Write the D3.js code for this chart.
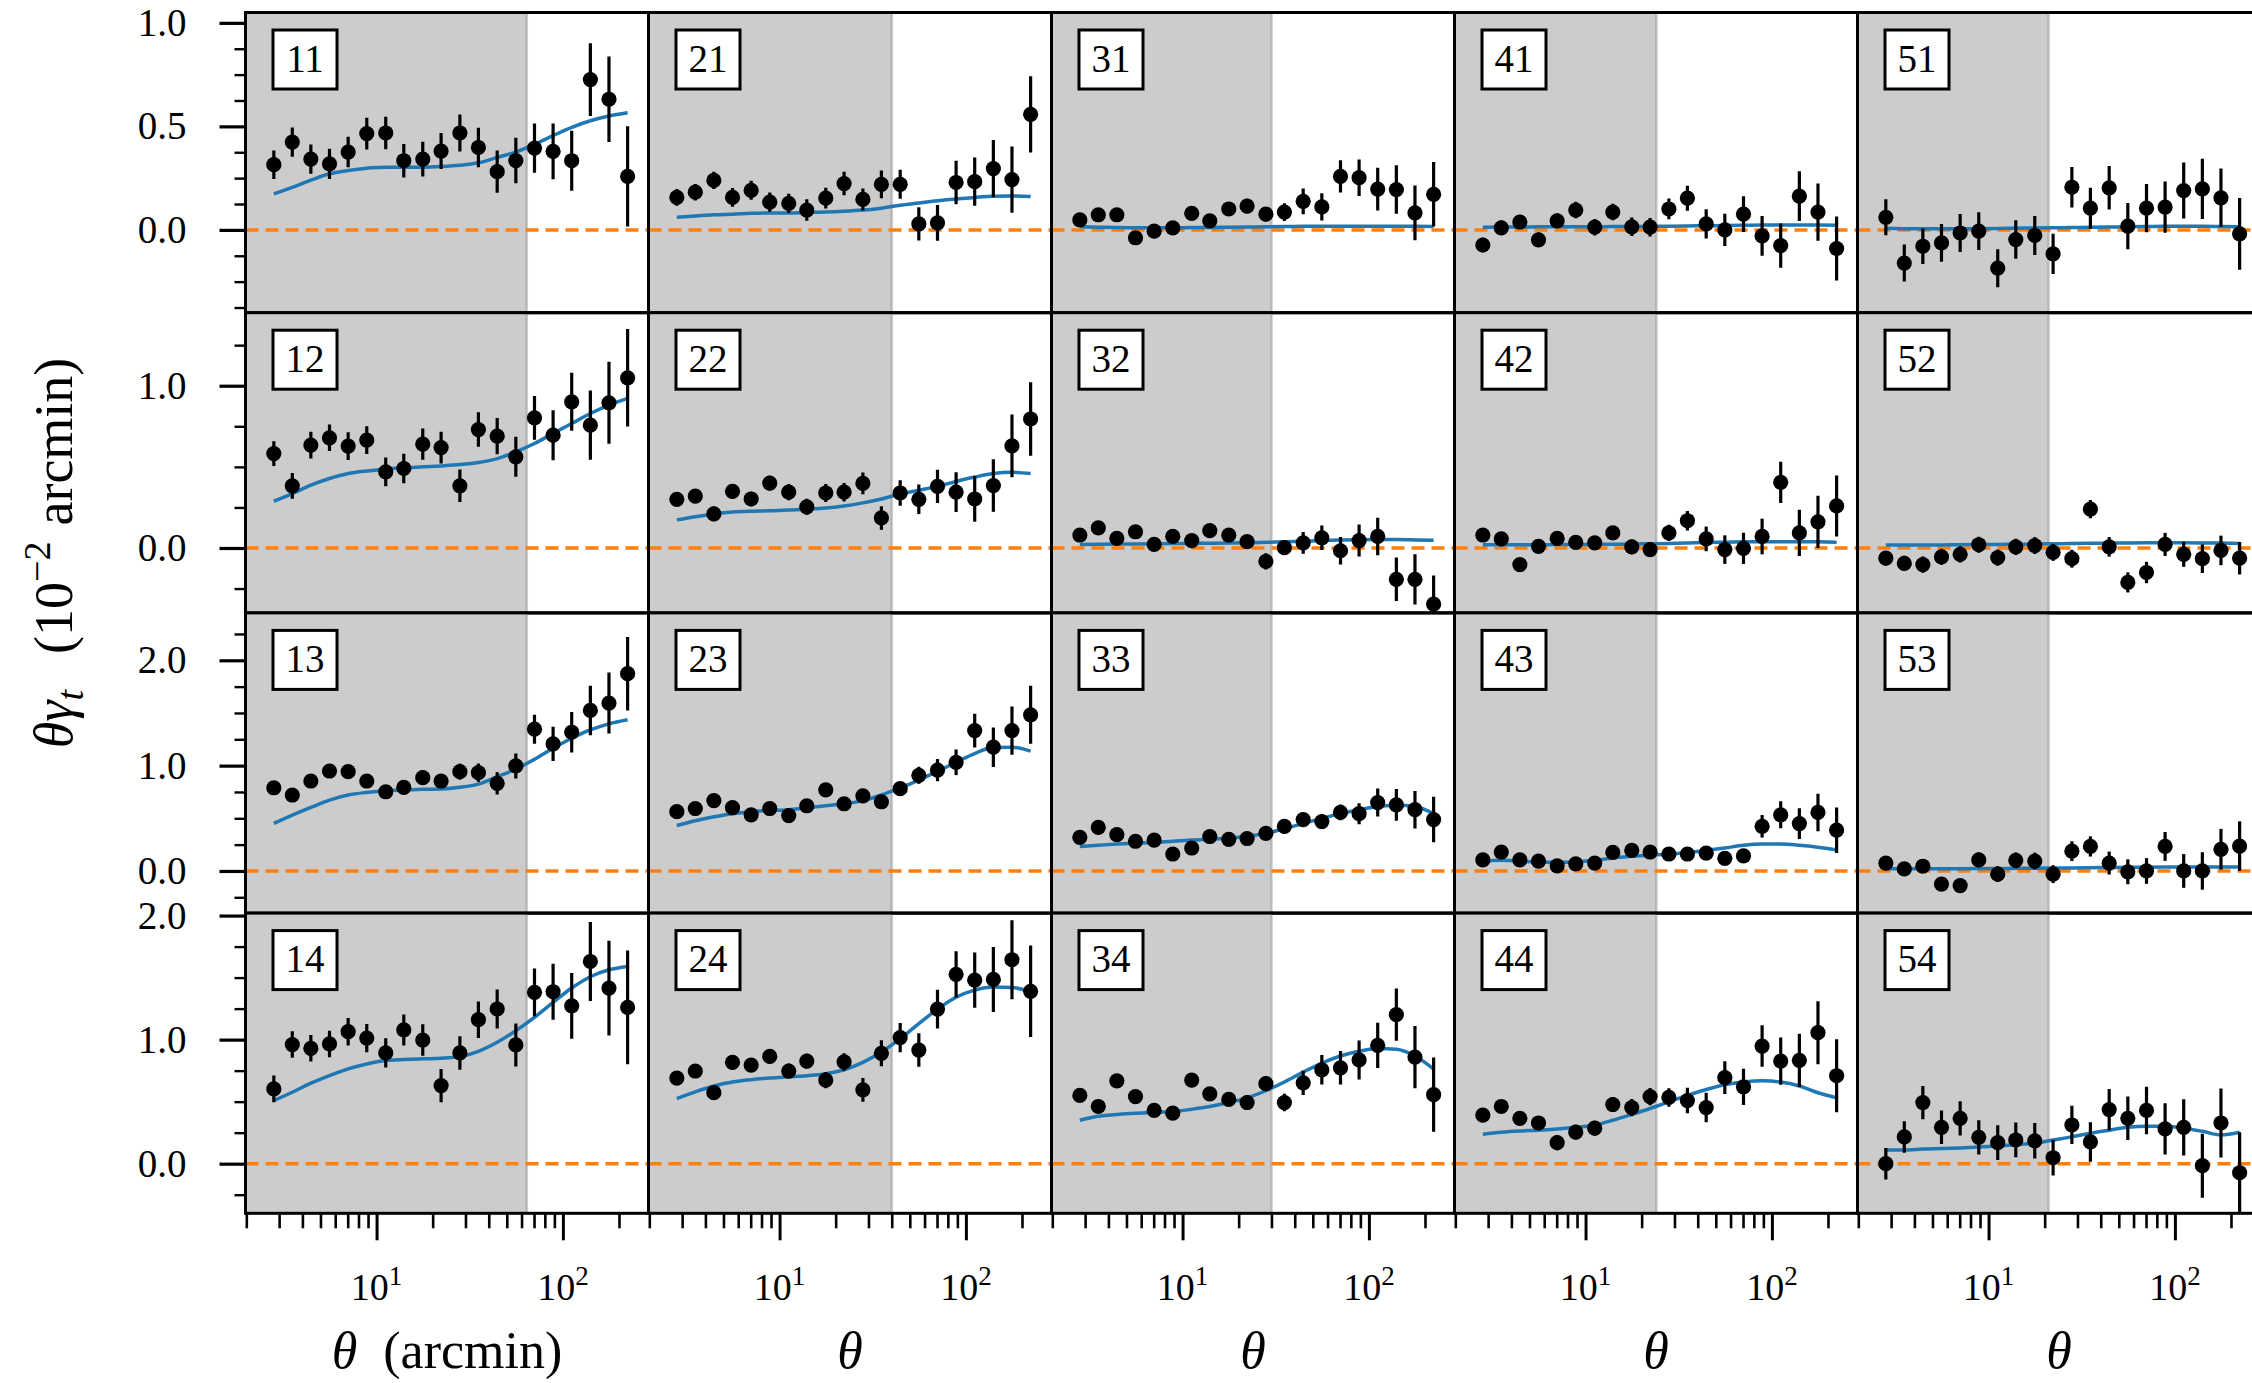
<!DOCTYPE html>
<html>
<head>
<meta charset="utf-8">
<script src="https://cdn.jsdelivr.net/npm/d3@7"></script>
<style>
  body { margin: 0; background: #fff; }
  svg { display: block; }
  text { font-family: "Liberation Serif", "Times New Roman", serif; fill: #000; }
</style>
</head>
<body>
<div id="chart"></div>
<script>
// angular bins (arcmin)
var theta = [2.81, 3.53, 4.44, 5.59, 7.04, 8.86, 11.2, 14.0, 17.7, 22.2, 28.0, 35.2, 44.4, 55.9, 70.4, 88.6, 111.5, 140.4, 176.7, 222.5];
var lensBins = ["1", "2", "3", "4", "5"];
var sourceBins = ["1", "2", "3", "4"];
var scaleCuts = [64, 40, 30, 24, 21];

var yMin = -0.40;
var yMax = [1.05, 1.45, 2.45, 2.02];
var yMajor = [[0, 0.5, 1.0], [0, 1.0], [0, 1.0, 2.0], [0, 1.0, 2.0]];
var yMinor = [
  [-0.375, -0.25, -0.125, 0.125, 0.25, 0.375, 0.625, 0.75, 0.875],
  [-0.25, 0.25, 0.5, 0.75, 1.25],
  [-0.25, 0.25, 0.5, 0.75, 1.25, 1.5, 1.75, 2.25],
  [-0.25, 0.25, 0.5, 0.75, 1.25, 1.5, 1.75]
];
var xMajor = [10, 100];
var xExp = ["1", "2"];
var xMinor = [2, 3, 4, 5, 6, 7, 8, 9, 20, 30, 40, 50, 60, 70, 80, 90, 200];

// theta * gamma_t (1e-2 arcmin), errors and model, per lens/source pair
var gt11 = [0.315, 0.424, 0.342, 0.319, 0.376, 0.465, 0.468, 0.334, 0.342, 0.381, 0.468, 0.398, 0.281, 0.335, 0.395, 0.379, 0.334, 0.726, 0.631, 0.258];
var err11 = [0.069, 0.071, 0.071, 0.073, 0.074, 0.077, 0.079, 0.081, 0.084, 0.087, 0.089, 0.095, 0.102, 0.110, 0.119, 0.135, 0.145, 0.176, 0.206, 0.242];
var mod11 = [0.174, 0.205, 0.240, 0.271, 0.287, 0.298, 0.302, 0.303, 0.303, 0.306, 0.312, 0.324, 0.350, 0.376, 0.413, 0.455, 0.495, 0.527, 0.550, 0.566];

var gt12 = [0.582, 0.383, 0.634, 0.679, 0.628, 0.665, 0.469, 0.490, 0.640, 0.619, 0.383, 0.730, 0.689, 0.562, 0.802, 0.695, 0.901, 0.757, 0.895, 1.049];
var err12 = [0.076, 0.079, 0.082, 0.082, 0.085, 0.086, 0.088, 0.091, 0.096, 0.098, 0.100, 0.106, 0.112, 0.123, 0.135, 0.154, 0.179, 0.213, 0.252, 0.300];
var mod12 = [0.288, 0.335, 0.387, 0.428, 0.459, 0.475, 0.486, 0.494, 0.500, 0.506, 0.514, 0.527, 0.551, 0.593, 0.644, 0.706, 0.767, 0.829, 0.881, 0.922];

var gt13 = [0.790, 0.721, 0.854, 0.949, 0.943, 0.854, 0.752, 0.794, 0.886, 0.854, 0.943, 0.933, 0.832, 0.997, 1.346, 1.206, 1.317, 1.524, 1.594, 1.873];
var err13 = [0.040, 0.040, 0.042, 0.044, 0.045, 0.047, 0.050, 0.052, 0.068, 0.060, 0.076, 0.087, 0.106, 0.119, 0.138, 0.162, 0.192, 0.235, 0.289, 0.349];
var mod13 = [0.451, 0.530, 0.603, 0.673, 0.721, 0.746, 0.762, 0.768, 0.775, 0.778, 0.794, 0.825, 0.895, 0.968, 1.060, 1.165, 1.260, 1.340, 1.397, 1.435];

var gt14 = [0.603, 0.960, 0.930, 0.965, 1.064, 1.013, 0.893, 1.078, 0.997, 0.630, 0.893, 1.161, 1.247, 0.957, 1.381, 1.386, 1.273, 1.630, 1.416, 1.260];
var err14 = [0.107, 0.107, 0.107, 0.107, 0.111, 0.114, 0.118, 0.125, 0.126, 0.134, 0.135, 0.147, 0.157, 0.174, 0.192, 0.225, 0.265, 0.318, 0.382, 0.458];
var mod14 = [0.509, 0.576, 0.649, 0.710, 0.764, 0.804, 0.831, 0.839, 0.845, 0.850, 0.863, 0.906, 0.979, 1.072, 1.180, 1.300, 1.416, 1.507, 1.563, 1.590];

var gt21 = [0.157, 0.182, 0.239, 0.157, 0.191, 0.134, 0.128, 0.096, 0.153, 0.224, 0.147, 0.220, 0.220, 0.029, 0.034, 0.229, 0.233, 0.296, 0.243, 0.558];
var err21 = [0.040, 0.040, 0.042, 0.045, 0.046, 0.046, 0.047, 0.052, 0.050, 0.057, 0.053, 0.067, 0.070, 0.080, 0.086, 0.105, 0.117, 0.138, 0.160, 0.184];
var mod21 = [0.061, 0.067, 0.073, 0.076, 0.080, 0.082, 0.082, 0.084, 0.086, 0.090, 0.096, 0.105, 0.119, 0.130, 0.141, 0.149, 0.157, 0.163, 0.164, 0.161];

var gt22 = [0.300, 0.320, 0.210, 0.349, 0.302, 0.400, 0.344, 0.254, 0.339, 0.344, 0.398, 0.185, 0.339, 0.300, 0.380, 0.344, 0.302, 0.385, 0.629, 0.795];
var err22 = [0.040, 0.040, 0.045, 0.045, 0.045, 0.045, 0.050, 0.050, 0.055, 0.057, 0.067, 0.073, 0.079, 0.091, 0.102, 0.122, 0.140, 0.162, 0.193, 0.226];
var mod22 = [0.173, 0.193, 0.210, 0.222, 0.227, 0.229, 0.234, 0.239, 0.246, 0.259, 0.278, 0.302, 0.332, 0.356, 0.380, 0.410, 0.437, 0.459, 0.466, 0.459];

var gt23 = [0.563, 0.593, 0.668, 0.601, 0.533, 0.593, 0.526, 0.619, 0.770, 0.638, 0.713, 0.657, 0.781, 0.908, 0.957, 1.032, 1.333, 1.175, 1.333, 1.483];
var err23 = [0.040, 0.040, 0.040, 0.040, 0.040, 0.042, 0.045, 0.050, 0.050, 0.050, 0.050, 0.052, 0.060, 0.081, 0.105, 0.122, 0.160, 0.188, 0.229, 0.276];
var mod23 = [0.432, 0.477, 0.514, 0.544, 0.563, 0.574, 0.582, 0.601, 0.619, 0.638, 0.668, 0.721, 0.788, 0.863, 0.946, 1.032, 1.115, 1.171, 1.175, 1.137];

var gt24 = [0.690, 0.747, 0.572, 0.817, 0.795, 0.865, 0.747, 0.827, 0.674, 0.820, 0.595, 0.890, 1.017, 0.916, 1.246, 1.526, 1.479, 1.485, 1.644, 1.390];
var err24 = [0.050, 0.050, 0.052, 0.055, 0.055, 0.057, 0.060, 0.060, 0.065, 0.070, 0.095, 0.105, 0.118, 0.135, 0.157, 0.186, 0.223, 0.262, 0.318, 0.369];
var mod24 = [0.525, 0.579, 0.626, 0.658, 0.677, 0.690, 0.700, 0.709, 0.725, 0.757, 0.817, 0.900, 1.008, 1.129, 1.246, 1.342, 1.399, 1.424, 1.421, 1.383];

var gt31 = [0.048, 0.073, 0.073, -0.038, -0.006, 0.010, 0.080, 0.044, 0.101, 0.115, 0.076, 0.086, 0.138, 0.111, 0.258, 0.252, 0.197, 0.195, 0.082, 0.172];
var err31 = [0.025, 0.025, 0.025, 0.026, 0.027, 0.028, 0.029, 0.030, 0.030, 0.035, 0.035, 0.043, 0.062, 0.066, 0.078, 0.088, 0.103, 0.117, 0.132, 0.156];
var mod31 = [0.015, 0.013, 0.011, 0.010, 0.010, 0.010, 0.011, 0.012, 0.013, 0.014, 0.015, 0.016, 0.017, 0.018, 0.018, 0.018, 0.018, 0.018, 0.017, 0.016];

var gt32 = [0.080, 0.124, 0.059, 0.100, 0.022, 0.071, 0.046, 0.107, 0.080, 0.039, -0.083, 0.002, 0.032, 0.063, -0.017, 0.046, 0.071, -0.193, -0.193, -0.346];
var err32 = [0.030, 0.030, 0.030, 0.030, 0.030, 0.030, 0.030, 0.030, 0.030, 0.035, 0.050, 0.045, 0.067, 0.076, 0.085, 0.098, 0.116, 0.134, 0.155, 0.177];
var mod32 = [0.022, 0.023, 0.024, 0.025, 0.026, 0.027, 0.028, 0.029, 0.030, 0.032, 0.035, 0.038, 0.042, 0.046, 0.049, 0.051, 0.052, 0.052, 0.050, 0.047];

var gt33 = [0.319, 0.413, 0.345, 0.282, 0.293, 0.161, 0.218, 0.327, 0.300, 0.308, 0.357, 0.424, 0.488, 0.469, 0.556, 0.544, 0.649, 0.627, 0.582, 0.488];
var err33 = [0.035, 0.035, 0.035, 0.035, 0.035, 0.035, 0.035, 0.035, 0.035, 0.035, 0.038, 0.040, 0.045, 0.055, 0.075, 0.100, 0.133, 0.150, 0.178, 0.216];
var mod33 = [0.233, 0.244, 0.255, 0.263, 0.270, 0.282, 0.293, 0.300, 0.312, 0.330, 0.357, 0.402, 0.450, 0.499, 0.544, 0.582, 0.612, 0.627, 0.612, 0.544];

var gt34 = [0.550, 0.461, 0.668, 0.541, 0.429, 0.407, 0.674, 0.563, 0.518, 0.493, 0.645, 0.493, 0.652, 0.757, 0.773, 0.836, 0.954, 1.202, 0.859, 0.556];
var err34 = [0.040, 0.040, 0.040, 0.040, 0.040, 0.040, 0.045, 0.045, 0.050, 0.060, 0.060, 0.070, 0.098, 0.119, 0.135, 0.157, 0.183, 0.211, 0.251, 0.299];
var mod34 = [0.350, 0.382, 0.397, 0.407, 0.413, 0.420, 0.439, 0.461, 0.493, 0.531, 0.588, 0.658, 0.738, 0.811, 0.868, 0.906, 0.928, 0.922, 0.868, 0.763];

var gt41 = [-0.073, 0.010, 0.038, -0.048, 0.044, 0.096, 0.013, 0.086, 0.015, 0.013, 0.101, 0.153, 0.029, 0.000, 0.076, -0.029, -0.076, 0.163, 0.086, -0.090];
var err41 = [0.035, 0.035, 0.035, 0.035, 0.035, 0.040, 0.040, 0.040, 0.045, 0.045, 0.050, 0.060, 0.071, 0.078, 0.086, 0.096, 0.107, 0.120, 0.138, 0.155];
var mod41 = [0.013, 0.014, 0.014, 0.015, 0.015, 0.015, 0.015, 0.016, 0.016, 0.017, 0.018, 0.019, 0.020, 0.021, 0.022, 0.023, 0.023, 0.023, 0.023, 0.022];

var gt42 = [0.080, 0.056, -0.102, 0.010, 0.059, 0.034, 0.032, 0.093, 0.007, -0.010, 0.093, 0.168, 0.056, -0.010, -0.002, 0.071, 0.405, 0.093, 0.161, 0.259];
var err42 = [0.040, 0.040, 0.040, 0.040, 0.040, 0.040, 0.040, 0.040, 0.045, 0.045, 0.050, 0.060, 0.076, 0.088, 0.096, 0.110, 0.127, 0.143, 0.161, 0.188];
var mod42 = [0.020, 0.020, 0.020, 0.020, 0.021, 0.021, 0.022, 0.023, 0.024, 0.026, 0.028, 0.031, 0.034, 0.036, 0.038, 0.039, 0.039, 0.039, 0.038, 0.036];

var gt43 = [0.105, 0.180, 0.105, 0.094, 0.049, 0.068, 0.075, 0.176, 0.195, 0.180, 0.161, 0.161, 0.169, 0.120, 0.143, 0.424, 0.533, 0.450, 0.556, 0.387];
var err43 = [0.030, 0.030, 0.030, 0.030, 0.030, 0.030, 0.030, 0.030, 0.030, 0.030, 0.032, 0.034, 0.036, 0.045, 0.055, 0.107, 0.128, 0.146, 0.178, 0.216];
var mod43 = [0.094, 0.101, 0.094, 0.086, 0.083, 0.086, 0.101, 0.124, 0.139, 0.150, 0.158, 0.176, 0.195, 0.218, 0.244, 0.255, 0.255, 0.244, 0.225, 0.199];

var gt44 = [0.391, 0.461, 0.366, 0.328, 0.169, 0.254, 0.286, 0.477, 0.452, 0.541, 0.534, 0.509, 0.452, 0.693, 0.620, 0.948, 0.827, 0.833, 1.056, 0.709];
var err44 = [0.050, 0.050, 0.050, 0.050, 0.060, 0.060, 0.060, 0.060, 0.070, 0.070, 0.075, 0.103, 0.119, 0.132, 0.146, 0.167, 0.191, 0.215, 0.254, 0.294];
var mod44 = [0.238, 0.254, 0.264, 0.270, 0.280, 0.293, 0.312, 0.350, 0.397, 0.445, 0.499, 0.550, 0.598, 0.636, 0.658, 0.668, 0.658, 0.626, 0.572, 0.531];

var gt51 = [0.061, -0.160, -0.079, -0.063, -0.015, -0.006, -0.185, -0.047, -0.027, -0.116, 0.206, 0.105, 0.203, 0.018, 0.105, 0.110, 0.190, 0.198, 0.155, -0.019];
var err51 = [0.087, 0.089, 0.086, 0.091, 0.092, 0.091, 0.092, 0.093, 0.094, 0.097, 0.098, 0.099, 0.105, 0.112, 0.117, 0.124, 0.135, 0.145, 0.141, 0.173];
var mod51 = [0.008, 0.006, 0.005, 0.005, 0.005, 0.006, 0.007, 0.008, 0.009, 0.010, 0.011, 0.013, 0.014, 0.015, 0.016, 0.017, 0.017, 0.017, 0.016, 0.015];

var gt52 = [-0.063, -0.095, -0.102, -0.054, -0.039, 0.020, -0.059, 0.007, 0.015, -0.027, -0.066, 0.239, 0.007, -0.212, -0.151, 0.022, -0.039, -0.066, -0.015, -0.063];
var err52 = [0.045, 0.047, 0.050, 0.050, 0.050, 0.050, 0.050, 0.050, 0.052, 0.052, 0.055, 0.056, 0.060, 0.062, 0.066, 0.071, 0.077, 0.088, 0.091, 0.100];
var mod52 = [0.018, 0.018, 0.019, 0.019, 0.020, 0.021, 0.022, 0.023, 0.024, 0.026, 0.028, 0.029, 0.030, 0.031, 0.032, 0.032, 0.032, 0.031, 0.030, 0.028];

var gt53 = [0.075, 0.019, 0.045, -0.124, -0.139, 0.105, -0.030, 0.101, 0.094, -0.030, 0.188, 0.233, 0.075, -0.008, 0.000, 0.233, 0.000, 0.000, 0.206, 0.236];
var err53 = [0.060, 0.060, 0.065, 0.065, 0.065, 0.070, 0.075, 0.075, 0.080, 0.085, 0.094, 0.096, 0.109, 0.118, 0.122, 0.137, 0.160, 0.178, 0.193, 0.235];
var mod53 = [0.020, 0.020, 0.021, 0.021, 0.022, 0.023, 0.024, 0.025, 0.026, 0.027, 0.029, 0.031, 0.033, 0.035, 0.036, 0.037, 0.038, 0.038, 0.038, 0.037];

var gt54 = [0.000, 0.216, 0.493, 0.293, 0.366, 0.213, 0.169, 0.191, 0.184, 0.048, 0.312, 0.175, 0.436, 0.366, 0.429, 0.280, 0.293, -0.016, 0.328, -0.073];
var err54 = [0.127, 0.127, 0.134, 0.135, 0.138, 0.138, 0.140, 0.140, 0.143, 0.143, 0.154, 0.159, 0.167, 0.175, 0.191, 0.207, 0.227, 0.258, 0.278, 0.326];
var mod54 = [0.111, 0.111, 0.118, 0.122, 0.127, 0.134, 0.143, 0.153, 0.165, 0.191, 0.216, 0.245, 0.270, 0.293, 0.302, 0.302, 0.286, 0.261, 0.232, 0.254];

var panelData = {
  "11": [gt11, err11, mod11], "12": [gt12, err12, mod12], "13": [gt13, err13, mod13], "14": [gt14, err14, mod14],
  "21": [gt21, err21, mod21], "22": [gt22, err22, mod22], "23": [gt23, err23, mod23], "24": [gt24, err24, mod24],
  "31": [gt31, err31, mod31], "32": [gt32, err32, mod32], "33": [gt33, err33, mod33], "34": [gt34, err34, mod34],
  "41": [gt41, err41, mod41], "42": [gt42, err42, mod42], "43": [gt43, err43, mod43], "44": [gt44, err44, mod44],
  "51": [gt51, err51, mod51], "52": [gt52, err52, mod52], "53": [gt53, err53, mod53], "54": [gt54, err54, mod54]
};

var w = 2252;
var h = 1383;
var marginLeft = 245.5;
var marginTop = 12.5;
var pw = 403;
var ph = 300.2;

var svg = d3.select("#chart")
  .append("svg")
  .attr("width", w)
  .attr("height", h);

var x = d3.scaleLog().domain([1.98, 288]).range([0, pw]);

svg.append("defs")
  .append("clipPath")
  .attr("id", "panelClip")
  .append("rect")
  .attr("x", 0).attr("y", 0)
  .attr("width", pw).attr("height", ph);

lensBins.forEach(function(lens, c) {
  sourceBins.forEach(function(src, r) {
    var key = lens + src;
    var vals = panelData[key];
    var y = d3.scaleLinear().domain([yMin, yMax[r]]).range([ph, 0]);

    var g = svg.append("g")
      .attr("transform", "translate(" + (marginLeft + c * pw) + "," + (marginTop + r * ph) + ")");

    var inner = g.append("g").attr("clip-path", "url(#panelClip)");

    // excluded small scales
    inner.append("rect")
      .attr("x", 0).attr("y", 0)
      .attr("width", x(scaleCuts[c]))
      .attr("height", ph)
      .style("fill", "#cccccc");
    inner.append("line")
      .attr("x1", x(scaleCuts[c])).attr("x2", x(scaleCuts[c]))
      .attr("y1", 0).attr("y2", ph)
      .style("stroke", "#808080")
      .style("stroke-opacity", 0.4)
      .style("stroke-width", 2.5);

    inner.append("line")
      .attr("x1", 0).attr("x2", pw)
      .attr("y1", y(0)).attr("y2", y(0))
      .style("stroke", "#ff7f0e")
      .style("stroke-width", 3.5)
      .style("stroke-dasharray", "13,7");

    var line = d3.line()
      .x(function(d, i) { return x(theta[i]); })
      .y(function(d) { return y(d); })
      .curve(d3.curveMonotoneX);

    inner.append("path")
      .datum(vals[2])
      .attr("d", line)
      .style("fill", "none")
      .style("stroke", "#1f77b4")
      .style("stroke-width", 3.5);

    inner.selectAll(".err")
      .data(vals[0])
      .enter()
      .append("line")
      .attr("class", "err")
      .attr("x1", function(d, i) { return x(theta[i]); })
      .attr("x2", function(d, i) { return x(theta[i]); })
      .attr("y1", function(d, i) { return y(d - vals[1][i]); })
      .attr("y2", function(d, i) { return y(d + vals[1][i]); })
      .style("stroke", "#000")
      .style("stroke-width", 3.2);

    inner.selectAll("circle")
      .data(vals[0])
      .enter()
      .append("circle")
      .attr("cx", function(d, i) { return x(theta[i]); })
      .attr("cy", function(d) { return y(d); })
      .attr("r", 7.6)
      .style("fill", "#000");

    g.append("rect")
      .attr("x", 27.5).attr("y", 17.5)
      .attr("width", 64).attr("height", 59)
      .style("fill", "#fff")
      .style("stroke", "#000")
      .style("stroke-width", 3);
    g.append("text")
      .attr("x", 59.5).attr("y", 59)
      .attr("text-anchor", "middle")
      .style("font-size", "39px")
      .text(key);

    g.append("rect")
      .attr("width", pw).attr("height", ph)
      .style("fill", "none")
      .style("stroke", "#000")
      .style("stroke-width", 3);

    if (c === 0) {
      var yAx = g.append("g")
        .call(d3.axisLeft(y).tickValues(yMajor[r]).tickSize(26).tickPadding(33).tickFormat(d3.format(".1f")));
      yAx.select(".domain").remove();
      yAx.attr("font-family", null).attr("font-size", null);
      yAx.selectAll("line").style("stroke-width", 3.2);
      yAx.selectAll("text").style("font-size", "39px");

      var yMin2 = g.append("g")
        .call(d3.axisLeft(y).tickValues(yMinor[r]).tickSize(11).tickFormat(""));
      yMin2.select(".domain").remove();
      yMin2.selectAll("line").style("stroke-width", 2.4);
    }

    if (r === sourceBins.length - 1) {
      var xAx = g.append("g")
        .attr("transform", "translate(0," + ph + ")")
        .call(d3.axisBottom(x).tickValues(xMajor).tickSize(27).tickFormat(""));
      xAx.select(".domain").remove();
      xAx.selectAll("line").style("stroke-width", 3);

      var xMin2 = g.append("g")
        .attr("transform", "translate(0," + ph + ")")
        .call(d3.axisBottom(x).tickValues(xMinor).tickSize(15).tickFormat(""));
      xMin2.select(".domain").remove();
      xMin2.selectAll("line").style("stroke-width", 2.6);

      xMajor.forEach(function(v, k) {
        var t = g.append("text")
          .attr("x", x(v))
          .attr("y", ph + 87)
          .attr("text-anchor", "middle")
          .style("font-size", "38px");
        t.append("tspan").text("10");
        t.append("tspan")
          .attr("dy", -15)
          .style("font-size", "27px")
          .text(xExp[k]);
      });

      var xl = svg.append("text")
        .attr("x", marginLeft + c * pw + pw / 2)
        .attr("y", 1368)
        .attr("text-anchor", "middle")
        .style("font-size", "52px");
      xl.append("tspan").style("font-style", "italic").text("θ");
      if (c === 0) {
        xl.append("tspan").attr("dx", 26).text("(arcmin)");
      }
    }
  });
});

var yl = svg.append("text")
  .attr("transform", "translate(72,553) rotate(-90)")
  .attr("text-anchor", "middle")
  .style("font-size", "54px");
yl.append("tspan").style("font-style", "italic").text("θγ");
yl.append("tspan").style("font-style", "italic").style("font-size", "38px").attr("dy", 11).text("t");
yl.append("tspan").attr("dx", 36).attr("dy", -11).text("(10");
yl.append("tspan").style("font-size", "38px").attr("dy", -22).text("−2");
yl.append("tspan").attr("dx", 16).attr("dy", 22).text("arcmin)");
</script>
</body>
</html>
